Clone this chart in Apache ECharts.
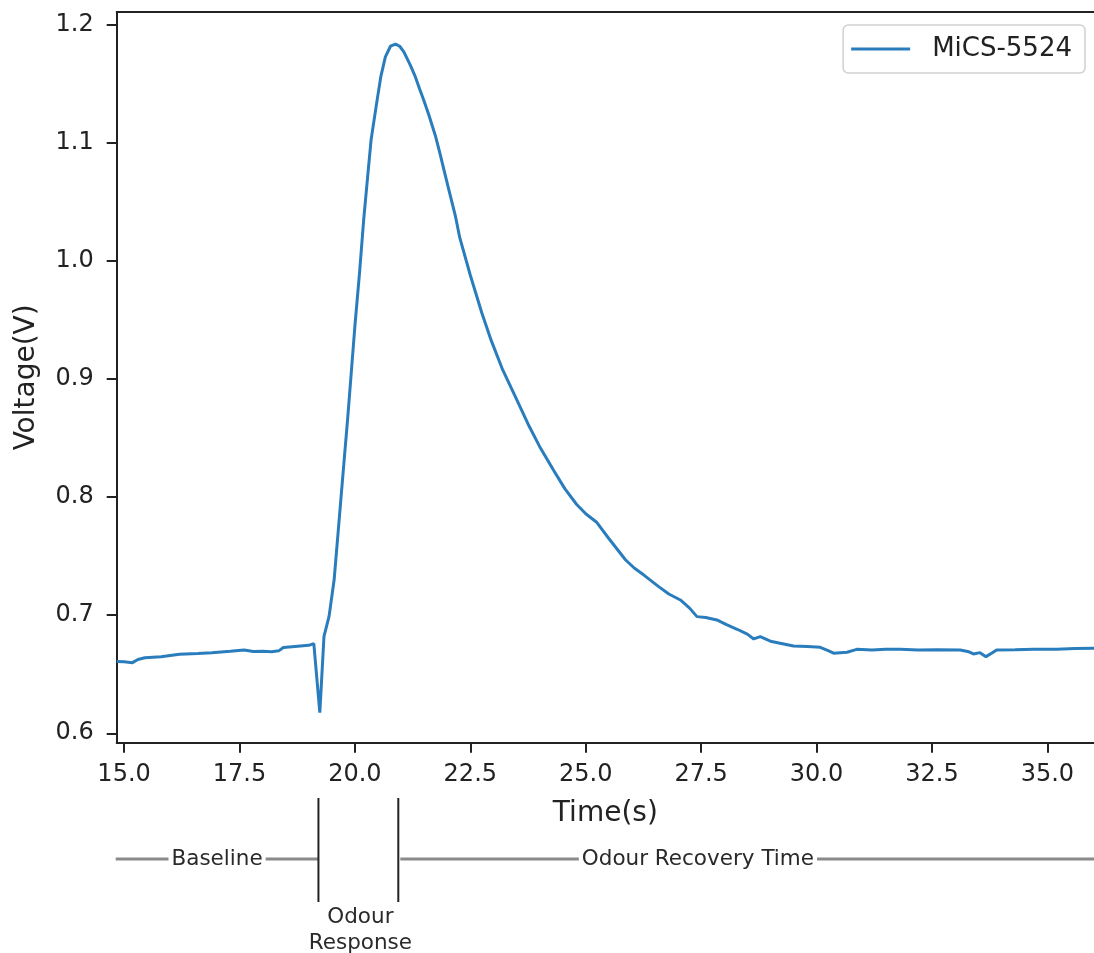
<!DOCTYPE html>
<html>
<head>
<meta charset="utf-8">
<script src="https://cdn.jsdelivr.net/npm/echarts@6/dist/echarts.min.js"></script>
<style>
html,body{margin:0;padding:0;background:#fff;}
#c{width:1094px;height:953px;}
</style>
</head>
<body>
<div id="c"></div>
<script>
// ---- data ----
const seriesName = 'MiCS-5524';
const timeS = [14.84,15.0,15.18,15.3,15.45,15.8,16.2,16.6,16.9,17.3,17.6,17.8,18.0,18.2,18.35,18.45,18.7,19.0,19.11,19.24,19.33,19.44,19.55,19.7,19.85,20.0,20.1,20.19,20.27,20.35,20.47,20.56,20.66,20.77,20.88,20.97,21.06,21.2,21.31,21.4,21.49,21.6,21.75,21.85,21.93,22.05,22.18,22.27,22.5,22.75,22.95,23.2,23.5,23.75,24.0,24.3,24.55,24.8,25.0,25.23,25.5,25.86,26.05,26.26,26.58,26.8,27.05,27.25,27.41,27.6,27.84,28.05,28.28,28.5,28.64,28.78,29.0,29.21,29.5,29.8,30.08,30.25,30.37,30.66,30.87,31.2,31.5,31.81,32.2,32.6,33.11,33.3,33.4,33.54,33.67,33.8,33.9,34.3,34.7,35.2,35.6,36.01];
const voltage = [0.6607,0.6605,0.6598,0.6625,0.6640,0.6648,0.6670,0.6675,0.6683,0.6695,0.6706,0.6692,0.6695,0.6690,0.6698,0.6726,0.6735,0.6745,0.6760,0.6175,0.6820,0.6990,0.7300,0.8000,0.8700,0.9450,0.9900,1.0350,1.0690,1.1025,1.1336,1.1560,1.1730,1.1820,1.1838,1.1820,1.1773,1.1660,1.1560,1.1460,1.1364,1.1240,1.1053,1.0900,1.0770,1.0580,1.0376,1.0200,0.9880,0.9560,0.9330,0.9080,0.8830,0.8620,0.8430,0.8230,0.8070,0.7940,0.7860,0.7790,0.7650,0.7470,0.7400,0.7340,0.7242,0.7180,0.7129,0.7060,0.6988,0.6980,0.6960,0.6920,0.6881,0.6840,0.6799,0.6818,0.6780,0.6762,0.6739,0.6735,0.6728,0.6700,0.6678,0.6686,0.6711,0.6706,0.6711,0.6711,0.6705,0.6708,0.6706,0.6690,0.6672,0.6683,0.6649,0.6680,0.6706,0.6708,0.6711,0.6712,0.6718,0.6720];
const xTicks = [15.0,17.5,20.0,22.5,25.0,27.5,30.0,32.5,35.0];
const yTicks = [0.6,0.7,0.8,0.9,1.0,1.1,1.2];
const xName = 'Time(s)';
const yName = 'Voltage(V)';
const phaseBounds = [19.21, 20.94];
const phaseLabels = ['Baseline', 'Odour\nResponse', 'Odour Recovery Time'];
const recoveryLabelCenter = 27.43;

const X_MIN = 14.84, X_MAX = 36.01, Y_MIN = 0.592, Y_MAX = 1.211;
const FONT = 'DejaVu Sans';
const AX = '#222';
const LINE = '#2a7dbd';

const chart = echarts.init(document.getElementById('c'), null, {renderer: 'canvas'});
const pts = timeS.map((t, i) => [t, voltage[i]]);

chart.setOption({
  animation: false,
  backgroundColor: '#fff',
  grid: {left: 116.7, right: 0, top: 12, bottom: 210.3, containLabel: false},
  legend: {
    show: true, right: 9, top: 25,
    padding: [11, 13, 11, 8],
    borderColor: '#d0d0d0', borderWidth: 1.5, borderRadius: 5,
    backgroundColor: '#fff',
    itemWidth: 59, itemHeight: 3,
    textStyle: {fontFamily: FONT, fontSize: 26, color: AX, padding: [0, 0, 0, 17]},
    data: [{name: seriesName, icon: 'path://M0,0 L59,0 L59,3 L0,3 Z', itemStyle: {color: LINE}}]
  },
  xAxis: [{
    type: 'value', min: X_MIN, max: X_MAX, position: 'bottom',
    name: xName, nameLocation: 'middle', nameGap: 57,
    nameTextStyle: {fontFamily: FONT, fontSize: 28, color: AX},
    axisLine: {show: true, onZero: false, lineStyle: {color: AX, width: 2}},
    axisTick: {show: true, length: 10, lineStyle: {color: AX, width: 2}, customValues: xTicks},
    axisLabel: {show: true, margin: 20, fontFamily: FONT, fontSize: 24, color: AX,
      customValues: xTicks, formatter: v => Number(v).toFixed(1)},
    splitLine: {show: false}
  }, {
    type: 'value', min: X_MIN, max: X_MAX, position: 'top',
    axisLine: {show: true, onZero: false, lineStyle: {color: AX, width: 2}},
    axisTick: {show: false}, axisLabel: {show: false}, splitLine: {show: false}
  }],
  yAxis: {
    type: 'value', min: Y_MIN, max: Y_MAX,
    name: yName, nameLocation: 'middle', nameGap: 76,
    nameTextStyle: {fontFamily: FONT, fontSize: 28, color: AX},
    axisLine: {show: true, onZero: false, lineStyle: {color: AX, width: 2}},
    axisTick: {show: true, length: 10, lineStyle: {color: AX, width: 2}, customValues: yTicks},
    axisLabel: {show: true, margin: 23, fontFamily: FONT, fontSize: 24, color: AX,
      customValues: yTicks, formatter: v => Number(v).toFixed(1)},
    splitLine: {show: false}
  },
  series: [{
    name: seriesName, type: 'line', xAxisIndex: 0, data: pts,
    symbol: 'none', showSymbol: false, smooth: false,
    lineStyle: {color: LINE, width: 3},
    itemStyle: {color: LINE}
  }]
});

// annotation below the axis, positioned through the x axis scale
const px = t => chart.convertToPixel({xAxisIndex: 0}, t);
const xLeft = px(X_MIN) - 1, xRight = px(X_MAX);
const b1 = px(phaseBounds[0]), b2 = px(phaseBounds[1]);
const lineY = 859;
const grey = '#8a8a8a';
const annFont = {fontFamily: FONT, fontSize: 21.5, fill: '#2a2a2a'};
chart.setOption({
  graphic: [
    {type: 'line', shape: {x1: xLeft, y1: lineY, x2: b1, y2: lineY}, style: {stroke: grey, lineWidth: 3}, z: 1},
    {type: 'line', shape: {x1: b2 + 2, y1: lineY, x2: xRight, y2: lineY}, style: {stroke: grey, lineWidth: 3}, z: 1},
    {type: 'line', shape: {x1: b1, y1: 798, x2: b1, y2: 902}, style: {stroke: AX, lineWidth: 2}, z: 2},
    {type: 'line', shape: {x1: b2, y1: 798, x2: b2, y2: 902}, style: {stroke: AX, lineWidth: 2}, z: 2},
    {type: 'text', x: (xLeft + b1) / 2, y: lineY, z: 3,
      style: Object.assign({text: phaseLabels[0], align: 'center', verticalAlign: 'middle',
        backgroundColor: '#fff', padding: [0, 3]}, annFont)},
    {type: 'text', x: (b1 + b2) / 2 + 2, y: 904, z: 3,
      style: Object.assign({text: phaseLabels[1], align: 'center', verticalAlign: 'top', lineHeight: 26}, annFont)},
    {type: 'text', x: px(recoveryLabelCenter), y: lineY, z: 3,
      style: Object.assign({text: phaseLabels[2], align: 'center', verticalAlign: 'middle',
        backgroundColor: '#fff', padding: [0, 3]}, annFont)}
  ]
});
</script>
</body>
</html>
